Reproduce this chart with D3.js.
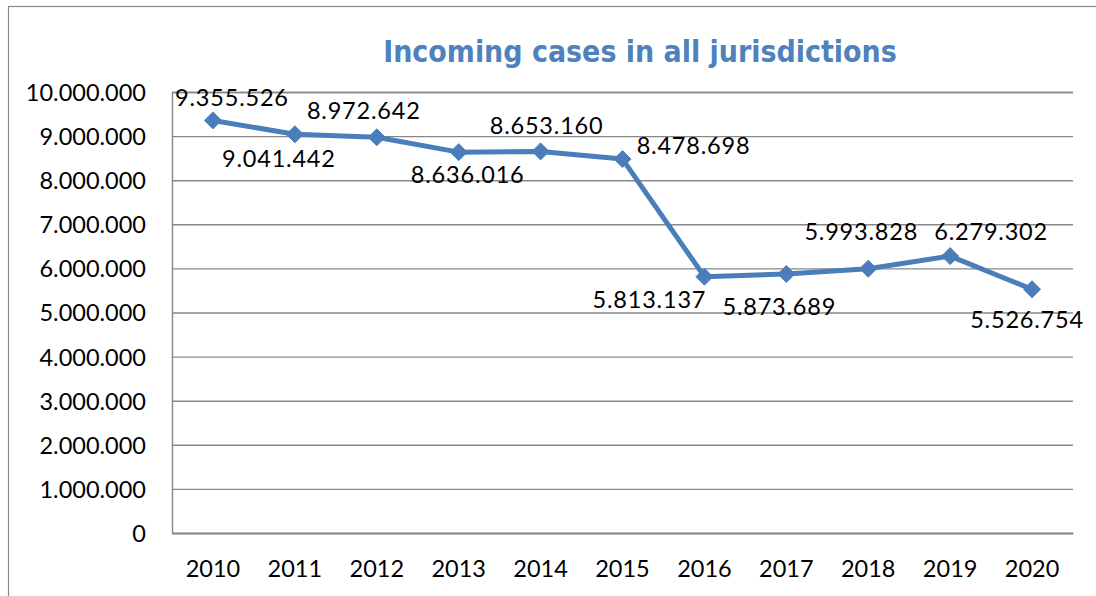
<!DOCTYPE html>
<html><head><meta charset="utf-8">
<script src="https://cdn.jsdelivr.net/npm/d3@7"></script>
<style>
html,body{margin:0;padding:0;background:#fff;}
svg{display:block;}
</style></head>
<body>
<svg id="chart" width="1096" height="596"></svg>
<script>
const title = "Incoming cases in all jurisdictions";
const years = ["2010","2011","2012","2013","2014","2015","2016","2017","2018","2019","2020"];
const cases = [9355526, 9041442, 8972642, 8636016, 8653160, 8478698, 5813137, 5873689, 5993828, 6279302, 5526754];
const yTicks = [0,1000000,2000000,3000000,4000000,5000000,6000000,7000000,8000000,9000000,10000000];
// label placement offsets (layout only): [dx, dy baseline]
const labelOffsets = [[19,-14],[-16,33],[-13,-18],[9,31],[6,-17],[71,-5],[-55,31],[-7,41],[-7,-29],[41,-16],[-5,39]];

const svg = d3.select("#chart");
const plot = {left:172, right:1073, top:92, bottom:533};
const blue = "#4a7ebb";
const grid = "#878787";
const font = "Lato, 'Open Sans', sans-serif";

const fmt = v => d3.format(",")(v).replace(/,/g, ".");

svg.append("rect").attr("x",8.5).attr("y",6.5).attr("width",1200).attr("height",700)
  .attr("fill","#fff").attr("stroke","#888").attr("stroke-width",1.2);

const x = d3.scaleBand().domain(years).range([plot.left, plot.right]).padding(0);
const y = d3.scaleLinear().domain([0,10000000]).range([plot.bottom, plot.top]);

const yAxis = d3.axisLeft(y).tickValues(yTicks).tickSize(-(plot.right-plot.left)).tickFormat(fmt);
const gy = svg.append("g").attr("transform",`translate(${plot.left},0)`).call(yAxis);
gy.select(".domain").attr("stroke",grid).attr("stroke-width",1.4);
gy.selectAll(".tick line").attr("stroke",grid).attr("stroke-width",1.4);
gy.selectAll(".tick text").attr("font-family",font).attr("font-size",23.5).attr("fill","#000")
  .attr("x",-26).attr("dy","0.36em");

const xAxis = d3.axisBottom(x).tickSize(0).tickPadding(0);
const gx = svg.append("g").attr("transform",`translate(0,${plot.bottom})`).call(xAxis);
gx.select(".domain").attr("stroke",grid).attr("stroke-width",1.4);
gx.selectAll(".tick text").attr("font-family",font).attr("font-size",23.5).attr("fill","#000")
  .attr("y",44).attr("dy",0);

const cx = d => x(d) + x.bandwidth()/2;
const pts = years.map((yr,i)=>({yr, v:cases[i], i}));

svg.append("path").datum(pts)
  .attr("d", d3.line().x(d=>cx(d.yr)).y(d=>y(d.v)))
  .attr("fill","none").attr("stroke",blue).attr("stroke-width",5).attr("stroke-linejoin","round");

svg.selectAll(".mk").data(pts).enter().append("path")
  .attr("class","mk")
  .attr("transform",d=>`translate(${cx(d.yr)},${y(d.v)})`)
  .attr("d","M0,-8.5L8.5,0L0,8.5L-8.5,0Z")
  .attr("fill",blue).attr("stroke",blue).attr("stroke-width",1);

svg.selectAll(".lbl").data(pts).enter().append("text")
  .attr("class","lbl")
  .attr("x",d=>cx(d.yr)+labelOffsets[d.i][0])
  .attr("y",d=>y(d.v)+labelOffsets[d.i][1])
  .attr("text-anchor","middle")
  .attr("font-family",font).attr("font-size",23.5).attr("letter-spacing","0.8px")
  .attr("fill","#000")
  .text(d=>fmt(d.v));

const t = svg.append("text").attr("x",640).attr("y",62).attr("text-anchor","middle")
  .attr("font-family","'DejaVu Sans Condensed', 'DejaVu Sans', sans-serif").attr("font-stretch","condensed")
  .attr("font-weight","bold")
  .attr("font-size",27).attr("fill","#4f81bd").text(title);
const tw = t.node().getComputedTextLength();
if (tw > 0) t.attr("font-size", 27*514/tw);
</script>
</body></html>
